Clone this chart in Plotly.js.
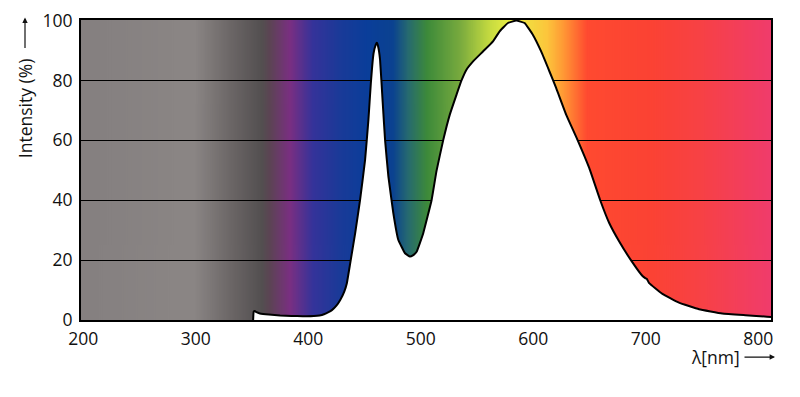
<!DOCTYPE html>
<html>
<head>
<meta charset="utf-8">
<script src="https://cdn.plot.ly/plotly-3.0.1.min.js"></script>
<style>html,body{margin:0;padding:0;background:#fff;}#chart{width:800px;height:397px;}</style>
</head>
<body>
<div id="chart"></div>
<script>
// Spectrum (wavelength in nm, relative intensity in %)
const wavelength = [351.0, 351.5, 352.5, 354, 357, 365, 375, 385, 395, 405, 410, 414, 418, 421, 425, 428.4, 432, 434.3, 437.3, 441.7, 446, 450.5, 453.5, 455.6, 458, 460, 461, 462, 463.8, 466.2, 468.3, 471.2, 475.6, 480, 486, 490.4, 493, 496.3, 502.2, 509.6, 514, 519.9, 525.8, 531.8, 536.2, 540.6, 546.5, 555.3, 564.2, 570.1, 577.5, 584.9, 592.3, 599.6, 607, 614.4, 620.3, 629.2, 639.5, 649.8, 659.5, 667.6, 676.4, 686.8, 697.1, 699.5, 701, 703, 714.8, 729.5, 747.3, 767.9, 788.6, 807.8, 811.3];
const intensity  = [0, 2.8, 3.0, 2.6, 2.2, 1.8, 1.5, 1.35, 1.25, 1.3, 1.5, 1.9, 2.6, 3.3, 4.8, 6.7, 9.5, 12.3, 19, 29, 40, 53.5, 67, 79, 89, 92, 92.6, 91.5, 87, 72.5, 60, 48, 35.7, 26.8, 22.3, 21.2, 21.6, 22.8, 29, 40, 49.8, 60, 68.6, 75.3, 80, 83.6, 86.4, 89.7, 93.1, 96.4, 99.2, 100, 99.2, 95.3, 89.7, 83, 77.5, 68.6, 60, 50.7, 40, 32.3, 26.2, 20, 14.7, 14.0, 13.7, 12.3, 8.7, 5.8, 3.6, 2.2, 1.6, 1.1, 1.0];

// Background spectrum colour stops
const bandWavelength = [197, 226.4, 281.6, 299.3, 330.4, 358.9, 366, 383.8, 404.2, 428.2, 452.2, 475.3, 488.7, 505.6, 534.9, 561.6, 579.3, 612.2, 626.4, 647.8, 706.4, 750.9, 811.3];
const bandColor = ['#858080', '#868181', '#8a8584', '#8a8584', '#6c6767', '#534f50', '#5c4454', '#7a2f82', '#35339a', '#1a3a98', '#0a3e9a', '#0b4290', '#266a70', '#3d8a3a', '#78aa3e', '#c6db40', '#eaee44', '#fcc63c', '#ff9a35', '#ff4a30', '#fb4234', '#f74146', '#f03c6c'];

const xTicks = [200, 300, 400, 500, 600, 700, 800];
const yTicks = [0, 20, 40, 60, 80, 100];

const xMin = 198, xMax = 811.3, yMax = 100.2;

// Build gradient image
const cv = document.createElement('canvas');
cv.width = 1200; cv.height = 2;
const ctx = cv.getContext('2d');
const grad = ctx.createLinearGradient(0, 0, cv.width, 0);
bandWavelength.forEach((w, i) => {
  let p = (w - xMin) / (xMax - xMin);
  p = Math.max(0, Math.min(1, p));
  grad.addColorStop(p, bandColor[i]);
});
ctx.fillStyle = grad;
ctx.fillRect(0, 0, cv.width, cv.height);
const bgSrc = cv.toDataURL('image/png');

const font = {family: 'Open Sans, sans-serif', size: 17.5, color: '#111'};

const trace = {
  x: wavelength, y: intensity,
  type: 'scatter', mode: 'lines',
  line: {color: '#000', width: 2, shape: 'spline', smoothing: 0.3},
  fill: 'tozeroy', fillcolor: '#ffffff',
  hoverinfo: 'skip'
};

const layout = {
  width: 800, height: 397,
  margin: {l: 81, r: 29, t: 20, b: 77},
  paper_bgcolor: '#fff', plot_bgcolor: '#fff',
  showlegend: false,
  font: font,
  xaxis: {
    range: [xMin, xMax], tickvals: xTicks, ticktext: xTicks.map(String),
    showgrid: false, zeroline: false,
    showline: true, mirror: true, linecolor: '#000', linewidth: 2,
    ticks: 'outside', ticklen: 2, tickcolor: 'rgba(0,0,0,0)',
    tickfont: font
  },
  yaxis: {
    range: [0, yMax], tickvals: yTicks, ticktext: yTicks.map(String),
    showgrid: true, gridcolor: '#000', gridwidth: 1, zeroline: false,
    showline: true, mirror: true, linecolor: '#000', linewidth: 2,
    ticks: 'outside', ticklen: 3, tickcolor: 'rgba(0,0,0,0)',
    tickfont: font
  },
  images: [{
    source: bgSrc, xref: 'x', yref: 'y',
    x: xMin, y: yMax, sizex: xMax - xMin, sizey: yMax,
    xanchor: 'left', yanchor: 'top', sizing: 'stretch', layer: 'below'
  }],
  annotations: [
    {text: 'λ[nm]', xref: 'paper', yref: 'paper', x: (742 - 81) / 690, y: (320 - 357) / 299.5,
     xanchor: 'right', yanchor: 'middle', showarrow: false, font: font},
    {text: '', xref: 'paper', yref: 'paper', x: (775 - 81) / 690, y: (320 - 357) / 299.5,
     showarrow: true, ax: -32, ay: 0, arrowhead: 2, arrowsize: 0.9, arrowwidth: 1.2, arrowcolor: '#111', standoff: 0},
    {text: 'Intensity (%)', xref: 'paper', yref: 'paper', x: (25 - 81) / 690, y: (320 - 108.5) / 299.5,
     xanchor: 'center', yanchor: 'middle', textangle: -90, showarrow: false, font: font},
    {text: '', xref: 'paper', yref: 'paper', x: (25 - 81) / 690, y: (320 - 18) / 299.5,
     showarrow: true, ax: 0, ay: 32, arrowhead: 2, arrowsize: 0.9, arrowwidth: 1.2, arrowcolor: '#111', standoff: 0}
  ]
};

Plotly.newPlot('chart', [trace], layout, {displayModeBar: false, staticPlot: true});
</script>
</body>
</html>
